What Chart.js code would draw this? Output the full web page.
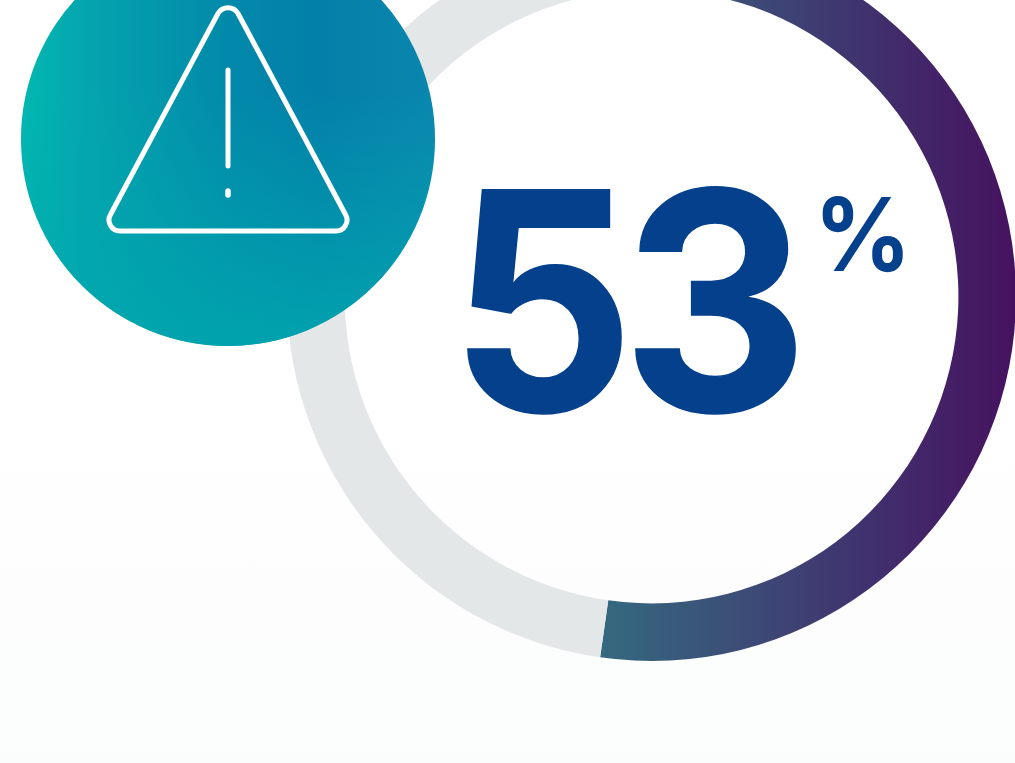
<!DOCTYPE html>
<html>
<head>
<meta charset="utf-8">
<script src="https://cdn.jsdelivr.net/npm/chart.js@4/dist/chart.umd.min.js"></script>
<style>
  html, body { margin: 0; padding: 0; width: 1015px; height: 763px; overflow: hidden; }
  body { position: relative; background: linear-gradient(180deg, #ffffff 0%, #ffffff 50%, #fdfdfe 84%, #fcfdfd 85%, #fbfcfc 100%); }
  #ring { position: absolute; left: 287px; top: -68px; }
  #badge { position: absolute; left: 0; top: 0; }
  .num { position: absolute; font-family: Inter, sans-serif; color: #04408c; line-height: 1; white-space: nowrap; }
  #value { left: 449px; top: 148px; font-size: 304px; font-weight: 700; letter-spacing: -13px; transform: scaleX(0.95); transform-origin: 14px 0; -webkit-text-stroke: 1.5px #04408c; }
  #unit { left: 814px; top: 183px; font-size: 102px; font-weight: 650; transform: scaleX(0.94); transform-origin: 0 0; }
</style>
</head>
<body>
<canvas id="ring" width="729" height="729"></canvas>
<svg id="badge" width="1015" height="763" viewBox="0 0 1015 763">
  <defs>
    <linearGradient id="disc" gradientUnits="userSpaceOnUse" x1="21" y1="0" x2="435" y2="0">
      <stop offset="0" stop-color="#02b8b1"/>
      <stop offset="0.17" stop-color="#04a4ae"/>
      <stop offset="0.5" stop-color="#0289aa"/>
      <stop offset="0.72" stop-color="#037fa9"/>
      <stop offset="1" stop-color="#0a86ae"/>
    </linearGradient>
    <linearGradient id="discFade" gradientUnits="userSpaceOnUse" x1="0" y1="90" x2="0" y2="346">
      <stop offset="0" stop-color="#00a8ae" stop-opacity="0"/>
      <stop offset="1" stop-color="#00a8ae" stop-opacity="0.85"/>
    </linearGradient>
  </defs>
  <circle cx="228" cy="139" r="207" fill="url(#disc)"/>
  <circle cx="228" cy="139" r="207" fill="url(#discFade)"/>
  <g fill="none" stroke="#ffffff" stroke-linecap="round" stroke-linejoin="round">
    <path stroke-width="5" d="M218,13.5 A11.5,11.5 0 0 1 238,13.5 L345.5,214.5 A11,11 0 0 1 336,231 L120,231 A11,11 0 0 1 110.5,214.5 Z"/>
    <path stroke-width="5" d="M228,70 L228,166"/>
    <path stroke-width="5.5" d="M228,191 L228,195"/>
  </g>
</svg>
<div id="value" class="num"></div>
<div id="unit" class="num">%</div>
<script>
  const categories = ['Affected', 'Other'];
  const shares = [53, 47];
  const unit = '%';

  document.getElementById('value').textContent = String(shares[0]);
  document.getElementById('unit').textContent = unit;

  const canvas = document.getElementById('ring');
  const ctx = canvas.getContext('2d');

  // Horizontal sweep across the highlighted arc, teal at the bottom to purple at the right edge
  const sweep = ctx.createLinearGradient(314, 0, 728, 0);
  sweep.addColorStop(0, '#34697f');
  sweep.addColorStop(0.3, '#3c5078');
  sweep.addColorStop(0.62, '#40336f');
  sweep.addColorStop(1, '#46125f');

  new Chart(ctx, {
    type: 'doughnut',
    data: {
      labels: categories,
      datasets: [{
        data: shares,
        backgroundColor: [sweep, '#e4e7e8'],
        borderWidth: 0,
        hoverOffset: 0
      }]
    },
    options: {
      responsive: false,
      animation: false,
      cutout: '84.2%',
      rotation: -2.7,
      layout: { padding: 0 },
      plugins: {
        legend: { display: false },
        tooltip: { enabled: false },
        title: { display: false }
      }
    }
  });
</script>
</body>
</html>
